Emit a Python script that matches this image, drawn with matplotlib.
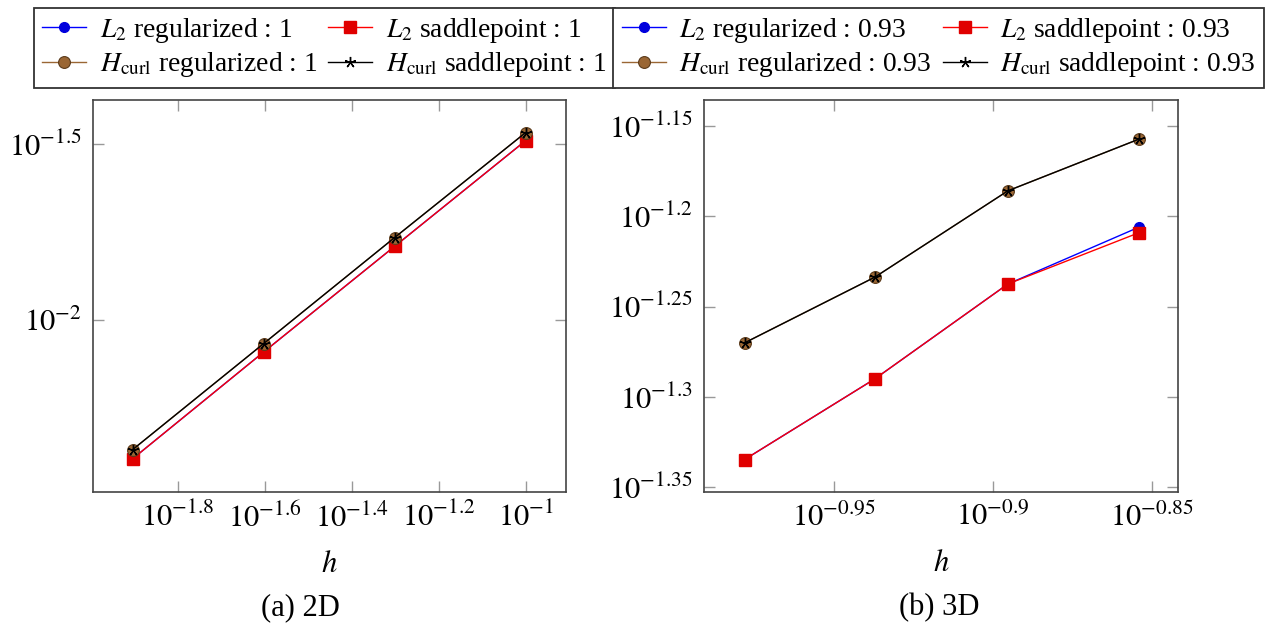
import matplotlib
matplotlib.use("Agg")
import matplotlib.pyplot as plt
import numpy as np
from matplotlib.ticker import FixedLocator, FuncFormatter, NullLocator

plt.rcParams['font.family'] = ['Liberation Serif', 'DejaVu Serif']
plt.rcParams['mathtext.fontset'] = 'stix'

# 2D data
h2 = [1/80, 1/40, 1/20, 1/10]
l2_reg_2d = [0.004018, 0.00809, 0.01618, 0.03236]
l2_sad_2d = [0.004018, 0.00809, 0.01618, 0.03236]
hc_reg_2d = [0.004266, 0.00855, 0.01714, 0.03412]
hc_sad_2d = [0.004266, 0.00855, 0.01714, 0.03412]
rates_2d = ['1', '1', '1', '1']

# 3D data
h3 = [0.1052, 0.1156, 0.1273, 0.1400]
l2_reg_3d = [0.04628, 0.05129, 0.05789, 0.06225]
l2_sad_3d = [0.04628, 0.05129, 0.05789, 0.06181]
hc_reg_3d = [0.05370, 0.05839, 0.06519, 0.06964]
hc_sad_3d = [0.05370, 0.05839, 0.06519, 0.06964]
rates_3d = ['0.93', '0.93', '0.93', '0.93']

xt_2d = [-1.8, -1.6, -1.4, -1.2, -1]
yt_2d = [-2, -1.5]
xt_3d = [-0.95, -0.9, -0.85]
yt_3d = [-1.35, -1.3, -1.25, -1.2, -1.15]

fig = plt.figure(figsize=(12.75, 6.3), dpi=100)
ax1 = fig.add_axes([0.0727, 0.2195, 0.3712, 0.6217])
ax2 = fig.add_axes([0.5522, 0.2195, 0.3718, 0.6217])

brown = '#9a6634'

def expfmt(v, pos):
    e = np.log10(v)
    s = ('%.2f' % e).rstrip('0').rstrip('.')
    return r'$10^{%s}$' % s

def draw(ax, h, a, b, c, d, rates):
    la = ax.plot(h, a, color='blue', lw=1, marker='o', ms=7, mfc='#0000dd', mec='#0000dd')[0]
    lb = ax.plot(h, b, color='red', lw=1, marker='s', ms=9, mfc='#e00000', mec='#e00000')[0]
    lc = ax.plot(h, c, color=brown, lw=1, marker='o', ms=8.5, mfc=brown, mec='#5a3a1a', mew=0.8)[0]
    ld = ax.plot(h, d, color='black', lw=1, marker=(5, 2, 0), ms=8, mew=1)[0]
    ax.set_xscale('log')
    ax.set_yscale('log')
    handles = [la, lc, lb, ld]
    labels = [r'$L_2$ regularized : ' + rates[0],
              r'$H_{\mathrm{curl}}$ regularized : ' + rates[2],
              r'$L_2$ saddlepoint : ' + rates[1],
              r'$H_{\mathrm{curl}}$ saddlepoint : ' + rates[3]]
    return handles, labels

def style(ax, xt, yt, xlim, ylim):
    ax.set_xlim(*xlim)
    ax.set_ylim(*ylim)
    ax.xaxis.set_major_locator(FixedLocator([10**e for e in xt]))
    ax.yaxis.set_major_locator(FixedLocator([10**e for e in yt]))
    ax.xaxis.set_minor_locator(NullLocator())
    ax.yaxis.set_minor_locator(NullLocator())
    ax.xaxis.set_major_formatter(FuncFormatter(expfmt))
    ax.yaxis.set_major_formatter(FuncFormatter(expfmt))
    ax.tick_params(which='both', direction='in', top=True, right=True,
                   length=8, width=1, color='#999999', labelsize=22, pad=8)
    for sp in ax.spines.values():
        sp.set_color('#444444')
        sp.set_linewidth(1.2)
    ax.set_xlabel(r'$h$', fontsize=22, labelpad=12)

hl, lab = draw(ax1, h2, l2_reg_2d, l2_sad_2d, hc_reg_2d, hc_sad_2d, rates_2d)
style(ax1, xt_2d, yt_2d, (10**-1.995, 10**-0.907), (10**-2.49, 10**-1.374))
hl2, lab2 = draw(ax2, h3, l2_reg_3d, l2_sad_3d, hc_reg_3d, hc_sad_3d, rates_3d)
style(ax2, xt_3d, yt_3d, (10**-0.9907, 10**-0.8417), (10**-1.3524, 10**-1.1356))

for handles, labels, cx in [(hl, lab, 0.2545), (hl2, lab2, 0.7362)]:
    leg = fig.legend(handles, labels, loc='upper center', bbox_to_anchor=(cx, 0.988),
                     ncol=2, fontsize=19.8, frameon=True, fancybox=False,
                     edgecolor='#333333', framealpha=1, borderpad=0.3,
                     columnspacing=0.4, handlelength=1.6, handletextpad=0.5,
                     labelspacing=0.2, borderaxespad=0)
    leg.get_frame().set_linewidth(1.3)

fig.text(0.2353, 0.036, '(a) 2D', ha='center', va='center', fontsize=22)
fig.text(0.737, 0.036, '(b) 3D', ha='center', va='center', fontsize=22)

fig.savefig('out.png', dpi=100)
